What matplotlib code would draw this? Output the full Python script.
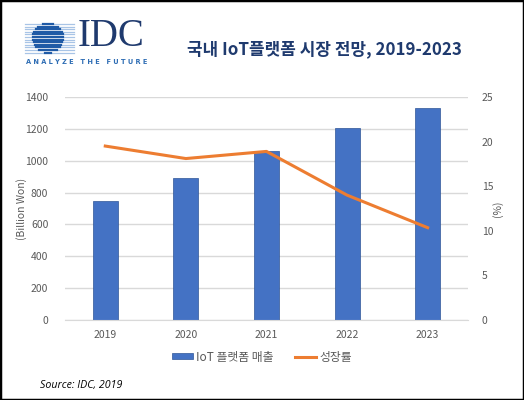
import matplotlib
matplotlib.use('Agg')
import matplotlib.pyplot as plt
import numpy as np
from matplotlib.patches import Rectangle

plt.rcParams['font.family'] = ['Noto Sans CJK KR', 'DejaVu Sans']

years = ['2019', '2020', '2021', '2022', '2023']
revenue = [750, 890, 1060, 1205, 1330]
growth = [19.5, 18.1, 18.9, 14.0, 10.35]

bar_color = '#4472C4'
line_color = '#ED7D31'
tick_color = '#595959'
navy = '#1F3A6E'

fig = plt.figure(figsize=(5.24, 4.0), dpi=100)
fig.patches.append(Rectangle((0, 0), 1, 1, transform=fig.transFigure, fill=False,
                             edgecolor='black', linewidth=2.5, zorder=10))

ax = fig.add_axes([0.124, 0.2, 0.769, 0.5575])
x = np.arange(len(years))
ax.bar(x, revenue, width=0.31, color=bar_color, edgecolor='#2F5597', linewidth=0.5,
       label='IoT 플랫폼 매출', zorder=2)
ax.set_ylim(0, 1400)
ax.set_yticks(range(0, 1401, 200))
ax.set_xlim(-0.5, 4.5)
ax.set_xticks(x)
ax.set_xticklabels(years)
ax.yaxis.grid(True, color='#D9D9D9', linewidth=1, zorder=0)
ax.set_axisbelow(True)
for s in ['top', 'right', 'left']:
    ax.spines[s].set_visible(False)
ax.spines['bottom'].set_color('#D9D9D9')
ax.tick_params(axis='both', length=0, colors=tick_color, labelsize=7.5)
ax.tick_params(axis='x', pad=7)
ax.tick_params(axis='y', pad=12)
ax.set_ylabel('(Billion Won)', color=tick_color, fontsize=7.5, labelpad=-1)

ax2 = ax.twinx()
ax2.plot(x, growth, color=line_color, linewidth=2.2, label='성장률', zorder=3)
ax2.set_ylim(0, 25)
ax2.set_yticks(range(0, 26, 5))
for s in ax2.spines.values():
    s.set_visible(False)
ax2.tick_params(axis='y', length=0, colors=tick_color, labelsize=7.5, pad=10)
ax2.set_ylabel('(%)', color=tick_color, fontsize=7.5, rotation=90, labelpad=-1)

h1, l1 = ax.get_legend_handles_labels()
h2, l2 = ax2.get_legend_handles_labels()
fig.legend(h1 + h2, l1 + l2, loc='center', bbox_to_anchor=(0.5, 0.107), ncol=2,
           frameon=False, fontsize=8.5, labelcolor=tick_color, handlelength=1.8,
           handleheight=0.4, columnspacing=1.8, handletextpad=0.3)

fig.text(0.076, 0.037, 'Source: IDC, 2019', style='italic', fontsize=7.7,
         color='black', va='center', family=['Open Sans', 'DejaVu Sans'])

fig.text(0.62, 0.878, '국내 IoT플랫폼 시장 전망, 2019-2023', fontsize=12.2,
         color=navy, ha='center', va='center', fontweight='bold')

# IDC logo
lax = fig.add_axes([0, 0.8, 0.3, 0.2])
lax.set_xlim(0, 157.2)
lax.set_ylim(80, 0)
lax.axis('off')
cx, cy, r = 48, 38, 15
for yy in np.arange(24, 54, 2.6):
    lax.plot([25, 74], [yy, yy], color='#A8C4E6', linewidth=0.9)
    dy = yy - cy
    if abs(dy) < r:
        half = np.sqrt(r ** 2 - dy ** 2)
        lax.plot([cx - half, cx + half], [yy, yy], color='#1F5AA6', linewidth=1.6)
lax.text(78, 36, 'IDC', fontsize=28, color=navy, family=['Liberation Serif'],
         va='center', ha='left')
lax.text(87, 62, 'A N A L Y Z E   T H E   F U T U R E', fontsize=4.8, color='#2E6DB4',
         ha='center', va='center', fontweight='bold', family=['DejaVu Sans'])

fig.savefig('out.png', dpi=100)
